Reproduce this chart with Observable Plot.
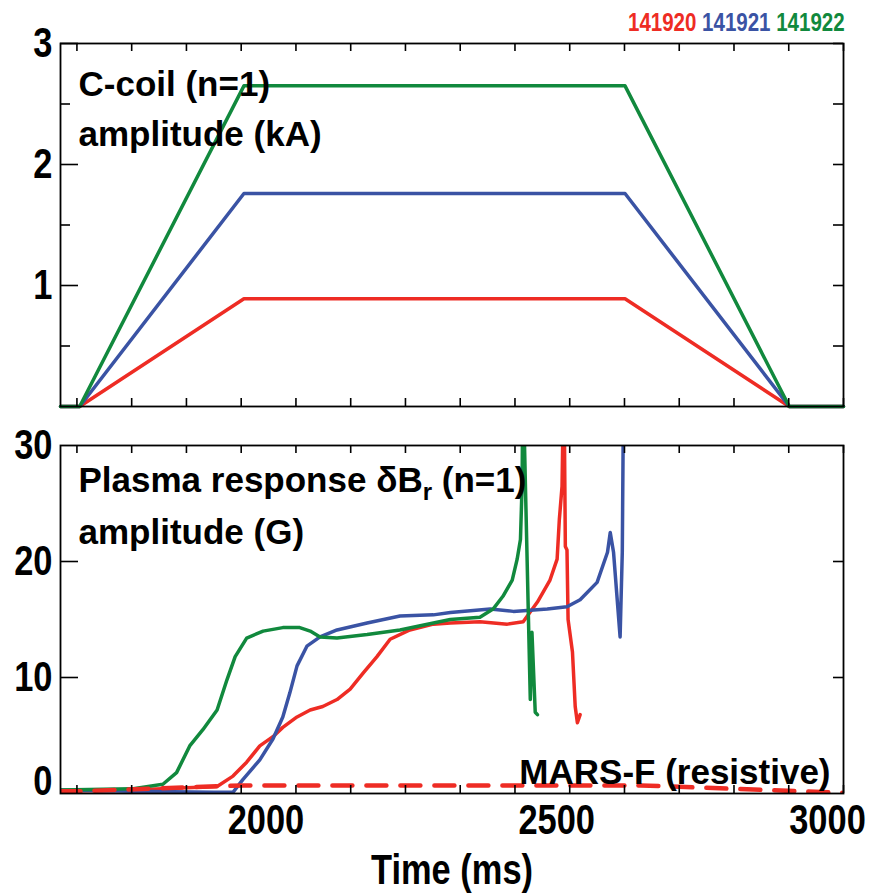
<!DOCTYPE html>
<html>
<head>
<meta charset="utf-8">
<script src="https://cdn.jsdelivr.net/npm/d3@7"></script>
<script src="https://cdn.jsdelivr.net/npm/@observablehq/plot@0.6"></script>
<style>
  html, body { margin: 0; padding: 0; background: #fff; }
  #root { position: relative; width: 869px; height: 893px; overflow: hidden; }
  #root > .panel { position: absolute; left: 0; }
  #legend { position: absolute; left: 628px; top: 8px; font-family: "Liberation Sans", Arial, sans-serif; font-weight: bold; font-size: 25px; white-space: nowrap; transform: scaleX(0.82); transform-origin: 0 0; }
</style>
</head>
<body>
<div id="root"><div id="legend"></div></div>
<script>
// ---------- data ----------
const shots = ["141920", "141921", "141922"];
const shotColors = ["#ee2c24", "#3a53a4", "#11893d"];

// C-coil (n=1) amplitude (kA)
const coilTime = [1570, 1605, 1905, 2601, 2901, 3000];
const coil141920 = [0, 0, 0.89, 0.89, 0, 0];
const coil141921 = [0, 0, 1.76, 1.76, 0, 0];
const coil141922 = [0, 0, 2.65, 2.65, 0, 0];

// Plasma response dBr (n=1) amplitude (G)
const resp141920Time = [1570, 1700, 1856, 1885, 1910, 1934, 1958, 1976, 2002, 2026, 2049, 2075, 2099, 2123, 2148, 2172, 2208, 2251, 2282, 2336, 2386, 2415, 2441, 2464, 2477, 2481, 2486, 2488, 2490, 2492, 2495, 2497, 2505, 2510, 2514, 2519];
const resp141920 = [0.2, 0.3, 0.6, 1.5, 2.7, 4.1, 4.9, 5.7, 6.6, 7.2, 7.5, 8.1, 9.0, 10.4, 11.8, 13.3, 14.1, 14.6, 14.7, 14.8, 14.6, 14.8, 16.5, 18.4, 20.2, 23.6, 26.5, 33, 33, 21.3, 21.0, 15.0, 12.2, 7.5, 6.1, 6.8];
const resp141921Time = [1570, 1700, 1850, 1885, 1903, 1934, 1958, 1976, 1989, 2002, 2020, 2044, 2075, 2130, 2190, 2251, 2282, 2355, 2397, 2459, 2495, 2519, 2550, 2569, 2574, 2580, 2592, 2596, 2598];
const resp141921 = [0.3, 0.2, 0.1, 0.1, 1.2, 2.9, 4.7, 6.6, 8.7, 11.0, 12.7, 13.5, 14.1, 14.7, 15.3, 15.4, 15.6, 15.9, 15.7, 15.9, 16.1, 16.7, 18.2, 20.8, 22.5, 20.8, 13.5, 20.8, 33];
const resp141922Time = [1570, 1700, 1757, 1782, 1806, 1830, 1856, 1874, 1889, 1910, 1940, 1976, 2007, 2026, 2044, 2075, 2130, 2190, 2251, 2282, 2336, 2360, 2378, 2395, 2404, 2410, 2413, 2414, 2416, 2428, 2431, 2437, 2441];
const resp141922 = [0.3, 0.4, 0.8, 1.8, 4.1, 5.5, 7.2, 9.8, 11.8, 13.4, 14.0, 14.3, 14.3, 14.0, 13.5, 13.4, 13.7, 14.1, 14.7, 15.0, 15.2, 15.9, 17.0, 18.4, 20.2, 21.9, 26.5, 33, 33, 8.1, 13.9, 7.0, 6.8];

// MARS-F (resistive) prediction
const marsTime = [1570, 1605, 1905, 2630, 3000];
const marsValue = [0.2, 0.2, 0.7, 0.7, 0.05];

// axes
const xDomain = [1570, 3000];
const xTickMarks = [1600, 1700, 1800, 1900, 2000, 2100, 2200, 2300, 2400, 2500, 2600, 2700, 2800, 2900, 3000];
const xTickLabels = [2000, 2500, 3000];
const coilYDomain = [0, 3];
const coilYLabels = [1, 2, 3];
const coilYMinor = [0.5, 1.5, 2.5];
const respYDomain = [0, 30];
const respYLabels = [0, 10, 20, 30];
const respYMajor = [10, 20];

(function () {
const SANS = '"Liberation Sans", Arial, Helvetica, sans-serif';
const W = 869, ML = 60, MR = 26;
const frameW = W - ML - MR;
const fmt = d => String(d);

function rows(times, vals, shot) { return times.map((t, i) => ({t, v: vals[i], shot})); }

const coilRows = [
  ...rows(coilTime, coil141920, shots[0]),
  ...rows(coilTime, coil141921, shots[1]),
  ...rows(coilTime, coil141922, shots[2])
];
const respRows = [
  ...rows(resp141920Time, resp141920, shots[0]),
  ...rows(resp141921Time, resp141921, shots[1]),
  ...rows(resp141922Time, resp141922, shots[2])
];
const marsRows = rows(marsTime, marsValue, "MARS-F");

const colorScale = {domain: shots, range: shotColors};
const axisFont = {fontSize: 42, fontWeight: "bold", label: null, tickSize: 0, tickFormat: fmt};

const topH = 420, topMT = 43, topMB = 14;
const topFrameH = topH - topMT - topMB;
const topPlot = Plot.plot({
  width: W, height: topH,
  marginLeft: ML, marginRight: MR, marginTop: topMT, marginBottom: topMB,
  style: {fontFamily: SANS, fontWeight: "bold", color: "black", background: "transparent", overflow: "visible"},
  x: {domain: xDomain},
  y: {domain: coilYDomain},
  color: colorScale,
  marks: [
    Plot.line(coilRows, {x: "t", y: "v", z: "shot", stroke: "shot", strokeWidth: 3.5}),
    Plot.axisY(coilYLabels, {...axisFont, tickPadding: 8}),
    Plot.axisX([], {label: null, tickSize: 0}),
    Plot.ruleY(coilYLabels, {y: d => d, insetRight: frameW - 18, strokeWidth: 1.6}),
    Plot.ruleY(coilYMinor, {y: d => d, insetRight: frameW - 10, strokeWidth: 1.6}),
    Plot.ruleY([...coilYMinor, ...coilYLabels], {y: d => d, insetLeft: frameW - 10, strokeWidth: 1.6}),
    Plot.ruleX(xTickMarks, {x: d => d, insetTop: topFrameH - 8, strokeWidth: 1.6}),
    Plot.ruleX(xTickMarks, {x: d => d, insetBottom: topFrameH - 8, strokeWidth: 1.6}),
    Plot.frame({stroke: "black", strokeWidth: 1.8}),
    Plot.text(["C-coil (n=1)\namplitude (kA)"], {frameAnchor: "top-left", lineAnchor: "top", textAnchor: "start", dx: 18, dy: 16, fontSize: 35, fontWeight: "bold", fontFamily: SANS, lineHeight: 1.45, fill: "black"})
  ]
});

const botTop = 420, botH = 473, botMT = 25, botMB = 100;
const botFrameH = botH - botMT - botMB;
const botPlot = Plot.plot({
  width: W, height: botH,
  marginLeft: ML, marginRight: MR, marginTop: botMT, marginBottom: botMB,
  style: {fontFamily: SANS, fontWeight: "bold", color: "black", background: "transparent", overflow: "visible"},
  x: {domain: xDomain},
  y: {domain: respYDomain},
  color: colorScale,
  marks: [
    Plot.line(respRows, {x: "t", y: "v", z: "shot", stroke: "shot", strokeWidth: 3.5, clip: true}),
    Plot.line(marsRows, {x: "t", y: "v", stroke: shotColors[0], strokeWidth: 4.5, strokeDasharray: "20,14", clip: true}),
    Plot.axisY(respYLabels.slice(0, 1), {...axisFont, tickPadding: 8, dy: -12}),
    Plot.axisY(respYLabels.slice(1), {...axisFont, tickPadding: 8}),
    Plot.axisX([xTickLabels[0]], {...axisFont, tickPadding: 11, dx: -30}),
    Plot.axisX([xTickLabels[1]], {...axisFont, tickPadding: 11, dx: -13}),
    Plot.axisX([xTickLabels[2]], {...axisFont, tickPadding: 11, dx: -16}),
    Plot.ruleY(respYMajor, {y: d => d, insetRight: frameW - 18, strokeWidth: 1.6}),
    Plot.ruleY(respYMajor, {y: d => d, insetLeft: frameW - 10, strokeWidth: 1.6}),
    Plot.ruleX(xTickMarks, {x: d => d, insetTop: botFrameH - 8, strokeWidth: 1.6}),
    Plot.ruleX(xTickMarks, {x: d => d, insetBottom: botFrameH - 8, strokeWidth: 1.6}),
    Plot.frame({stroke: "black", strokeWidth: 1.8}),
    Plot.text(["Plasma response δB_r (n=1)\namplitude (G)"], {frameAnchor: "top-left", lineAnchor: "top", textAnchor: "start", dx: 18, dy: 9, fontSize: 35, fontWeight: "bold", fontFamily: SANS, lineHeight: 1.5, fill: "black"}),
    Plot.text(["MARS-F (resistive)"], {frameAnchor: "bottom-right", lineAnchor: "bottom", textAnchor: "end", dx: -13, dy: -10, fontSize: 35, fontWeight: "bold", fontFamily: SANS, fill: "black"}),
    Plot.text(["Time (ms)"], {frameAnchor: "bottom", lineAnchor: "top", dy: 61, fontSize: 42, fontWeight: "bold", fontFamily: SANS, fill: "black"})
  ]
});

const root = document.getElementById("root");
topPlot.classList.add("panel"); topPlot.style.top = "0px";
botPlot.classList.add("panel"); botPlot.style.top = botTop + "px";
root.appendChild(topPlot);
root.appendChild(botPlot);

// condense the axis typography horizontally (narrow bold face)
const NARROW_FACTOR = 0.82;
function condense(t) {
  const tr = t.getAttribute("transform");
  if (tr) {
    t.setAttribute("transform", tr + ` scale(${NARROW_FACTOR},1)`);
  } else {
    const len = t.getComputedTextLength();
    t.setAttribute("textLength", len * NARROW_FACTOR);
    t.setAttribute("lengthAdjust", "spacingAndGlyphs");
  }
}
[topPlot, botPlot].forEach(svg => {
  svg.querySelectorAll("g[aria-label$='tick label'] text").forEach(condense);
  svg.querySelectorAll("text").forEach(t => { if (t.textContent === "Time (ms)") condense(t); });
});

// subscript r in δB_r
botPlot.querySelectorAll("tspan, text").forEach(el => {
  if (el.children.length === 0 && el.textContent.includes("δB_r")) {
    const [a, b] = el.textContent.split("δB_r");
    el.textContent = "";
    const ns = "http://www.w3.org/2000/svg";
    const t1 = document.createElementNS(ns, "tspan"); t1.textContent = a + "δB"; el.appendChild(t1);
    const t2 = document.createElementNS(ns, "tspan"); t2.textContent = "r"; t2.setAttribute("dy", "8"); t2.setAttribute("font-size", "24"); el.appendChild(t2);
    const t3 = document.createElementNS(ns, "tspan"); t3.textContent = b; t3.setAttribute("dy", "-8"); el.appendChild(t3);
  }
});

const legend = document.getElementById("legend");
shots.forEach((s, i) => {
  const sp = document.createElement("span");
  sp.textContent = s + (i < shots.length - 1 ? " " : "");
  sp.style.color = shotColors[i];
  legend.appendChild(sp);
});
})();
</script>
</body>
</html>
